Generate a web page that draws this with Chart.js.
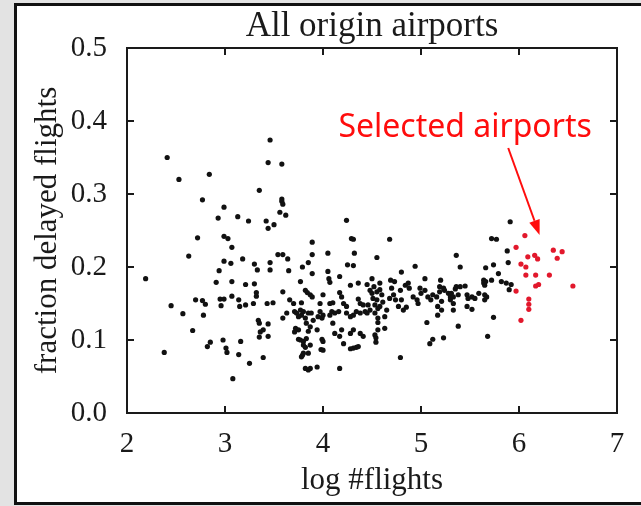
<!DOCTYPE html>
<html>
<head>
<meta charset="utf-8">
<script src="https://cdn.jsdelivr.net/npm/chart.js@4.4.1/dist/chart.umd.min.js"></script>
<style>
  html, body { margin: 0; padding: 0; background: #e3e3e3; overflow: hidden; }
  #frame { position: absolute; left: 14px; top: 3px; width: 640px; height: 502px; box-sizing: border-box;
           border: 3px solid #111; border-right: none; background: #fff; }
  #wrap { position: absolute; left: 0; top: 0; width: 641px; height: 506px; }
</style>
</head>
<body>
<div id="frame"></div>
<div id="wrap"><canvas id="chart" width="641" height="506"></canvas></div>
<script>
// ── data: [log #flights, fraction delayed] ──
const sparseAirports = [
  [2.19,0.184],[2.38,0.083],[2.41,0.350],[2.45,0.147],[2.53,0.320],[2.57,0.136],[2.63,0.215],[2.67,0.113],
  [2.70,0.155],[2.72,0.240],[2.77,0.154],[2.77,0.292],[2.78,0.134],[2.80,0.149],[2.82,0.091],[2.84,0.327],
  [2.85,0.097],[2.91,0.179],[2.93,0.267],[2.94,0.195],[2.95,0.156],[2.96,0.147],[2.98,0.100],[2.99,0.282],
  [2.99,0.242],[2.99,0.208],[2.99,0.156],[3.01,0.089],[3.02,0.083],[3.03,0.239],[3.06,0.205],[3.07,0.227],
  [3.07,0.180],[3.07,0.160],[3.08,0.047],[3.13,0.269],[3.14,0.155],[3.14,0.080],[3.15,0.146],[3.16,0.098],
  [3.18,0.211],[3.21,0.176],[3.21,0.148],[3.24,0.263],[3.25,0.068],[3.29,0.150],[3.30,0.204],[3.30,0.177]
];
const midAirports = [
  [3.32,0.165],[3.32,0.160],[3.33,0.196],[3.34,0.127],[3.35,0.123],[3.35,0.305],[3.35,0.104],[3.36,0.111],
  [3.39,0.114],[3.39,0.076],[3.42,0.263],[3.43,0.150],[3.44,0.343],[3.44,0.253],[3.44,0.122],[3.44,0.105],
  [3.46,0.374],[3.46,0.206],[3.46,0.196],[3.49,0.151],[3.50,0.258],[3.54,0.217],[3.56,0.275],[3.58,0.341],
  [3.58,0.293],[3.58,0.290],[3.59,0.286],[3.59,0.217],[3.59,0.166],[3.59,0.130],[3.62,0.271],[3.63,0.137],
  [3.64,0.211],[3.65,0.195],[3.66,0.155],[3.70,0.150],[3.71,0.139],[3.72,0.116],[3.71,0.111],[3.73,0.137],
  [3.75,0.132],[3.75,0.114],[3.75,0.101],[3.77,0.180],[3.77,0.141],[3.77,0.100],[3.78,0.151],[3.78,0.134],
  [3.78,0.077],[3.79,0.200],[3.79,0.079],[3.80,0.139],[3.80,0.098],[3.80,0.093],[3.80,0.082],[3.82,0.168],
  [3.82,0.130],[3.82,0.090],[3.82,0.061],[3.83,0.123],[3.83,0.102],[3.84,0.165],[3.85,0.206],[3.85,0.137],
  [3.85,0.112],[3.85,0.082],[3.85,0.059],[3.87,0.162],[3.87,0.118],[3.87,0.093],[3.87,0.061],[3.88,0.137],
  [3.89,0.234],[3.89,0.217],[3.89,0.191],[3.89,0.159],[3.90,0.127],[3.94,0.114],[3.94,0.063],[3.95,0.132],
  [3.97,0.150],[3.97,0.139],[3.98,0.087],[3.99,0.130],[3.99,0.101],[4.00,0.162],[4.00,0.134],[4.00,0.098],
  [4.00,0.086],[4.05,0.219],[4.05,0.194],[4.06,0.184],[4.07,0.179],[4.07,0.150],[4.07,0.134],[4.09,0.139],
  [4.10,0.151],[4.10,0.123],[4.12,0.137],[4.12,0.109],[4.16,0.139],[4.17,0.187],[4.17,0.165],[4.17,0.105],
  [4.17,0.061],[4.19,0.159],[4.19,0.114],[4.21,0.150],[4.21,0.095],[4.24,0.264],[4.24,0.146],[4.24,0.137],
  [4.25,0.203],[4.28,0.175],[4.28,0.132],[4.28,0.109],[4.28,0.088],[4.29,0.239],[4.31,0.238],[4.31,0.202],
  [4.31,0.134],[4.31,0.114],[4.31,0.089],[4.32,0.219],[4.34,0.139],[4.34,0.090],[4.36,0.178],[4.36,0.156],
  [4.36,0.091],[4.38,0.150],[4.38,0.137],[4.38,0.109],[4.41,0.148],[4.41,0.105],[4.43,0.139],[4.45,0.176],
  [4.45,0.137],[4.46,0.148],[4.48,0.168],[4.48,0.141]
];
const busyAirports = [
  [4.50,0.184],[4.50,0.164],[4.51,0.157],[4.52,0.173],[4.53,0.148],[4.53,0.137],[4.53,0.107],[4.54,0.103],
  [4.54,0.097],[4.55,0.213],[4.55,0.166],[4.55,0.155],[4.56,0.143],[4.56,0.130],[4.56,0.124],[4.56,0.114],
  [4.58,0.178],[4.58,0.169],[4.58,0.146],[4.60,0.162],[4.61,0.152],[4.63,0.132],[4.63,0.116],[4.65,0.141],
  [4.68,0.238],[4.68,0.157],[4.69,0.182],[4.70,0.171],[4.72,0.162],[4.73,0.180],[4.74,0.155],[4.77,0.146],
  [4.79,0.168],[4.79,0.076],[4.80,0.193],[4.80,0.155],[4.82,0.141],[4.84,0.175],[4.85,0.145],[4.87,0.178],
  [4.88,0.171],[4.92,0.159],[4.94,0.201],[4.96,0.155],[4.97,0.150],[4.99,0.171],[5.00,0.164],[5.04,0.184],
  [5.04,0.168],[5.06,0.124],[5.07,0.159],[5.09,0.095],[5.10,0.155],[5.12,0.162],[5.12,0.101],[5.16,0.159],
  [5.17,0.146],[5.17,0.134],[5.19,0.166],[5.19,0.173],[5.20,0.182],[5.21,0.153],[5.21,0.141],[5.23,0.171],
  [5.23,0.103],[5.24,0.168],[5.28,0.164],[5.30,0.159],[5.30,0.155],[5.31,0.164],[5.33,0.150],[5.33,0.159],
  [5.33,0.141],[5.35,0.170],[5.36,0.216],[5.36,0.173],[5.38,0.162],[5.38,0.119],[5.40,0.200],[5.40,0.173],
  [5.45,0.174],[5.47,0.162],[5.47,0.146],[5.48,0.157],[5.52,0.159],[5.52,0.142],[5.55,0.157],[5.59,0.164],
  [5.64,0.182],[5.64,0.178],[5.65,0.175],[5.65,0.162],[5.65,0.155],[5.66,0.199],[5.66,0.180],[5.67,0.159],
  [5.68,0.105],[5.72,0.239],[5.72,0.182],[5.74,0.203],[5.74,0.131],[5.77,0.238],[5.79,0.191],[5.82,0.180],
  [5.87,0.178],[5.88,0.222],[5.89,0.206],[5.90,0.169],[5.91,0.262],[5.92,0.176]
];
const selectedAirports = [
  [5.97,0.227],[5.97,0.167],[6.02,0.204],[6.02,0.127],[6.06,0.243],[6.07,0.200],[6.07,0.189],[6.09,0.214],
  [6.10,0.156],[6.10,0.149],[6.10,0.142],[6.16,0.216],[6.17,0.189],[6.17,0.174],[6.19,0.211],[6.20,0.176],
  [6.31,0.189],[6.35,0.223],[6.39,0.212],[6.44,0.221],[6.55,0.174]
];
const xTicks = [2, 3, 4, 5, 6, 7];
const yTicks = [0.0, 0.1, 0.2, 0.3, 0.4, 0.5];

// label + arrow, in data units
const CALLOUT = { text: 'Selected airports', at: [5.45, 0.391], from: [5.89, 0.363], to: [6.21, 0.244] };

const SERIF = "'Liberation Serif', 'Times New Roman', serif";
const INK = '#1a1a1a';
const RED = '#ff0d0d';

const toPts = arr => arr.map(([x, y]) => ({ x, y }));

// box round the plot with ticks pointing inward on every side
const boxTicks = {
  id: 'boxTicks',
  afterDraw(chart) {
    const { ctx, chartArea: a, scales: { x, y } } = chart;
    const len = 7;
    ctx.save();
    ctx.strokeStyle = INK;
    ctx.lineWidth = 2;
    ctx.strokeRect(a.left, a.top, a.right - a.left, a.bottom - a.top);
    ctx.beginPath();
    xTicks.forEach(v => {
      const px = x.getPixelForValue(v);
      ctx.moveTo(px, a.bottom); ctx.lineTo(px, a.bottom - len);
      ctx.moveTo(px, a.top); ctx.lineTo(px, a.top + len);
    });
    yTicks.forEach(v => {
      const py = y.getPixelForValue(v);
      ctx.moveTo(a.left, py); ctx.lineTo(a.left + len, py);
      ctx.moveTo(a.right, py); ctx.lineTo(a.right - len, py);
    });
    ctx.stroke();
    ctx.restore();
  }
};

const callout = {
  id: 'callout',
  afterDraw(chart) {
    const { ctx, scales: { x, y } } = chart;
    const tx = x.getPixelForValue(CALLOUT.at[0]), ty = y.getPixelForValue(CALLOUT.at[1]);
    const x0 = x.getPixelForValue(CALLOUT.from[0]), y0 = y.getPixelForValue(CALLOUT.from[1]);
    const x1 = x.getPixelForValue(CALLOUT.to[0]), y1 = y.getPixelForValue(CALLOUT.to[1]);
    ctx.save();
    ctx.fillStyle = RED;
    ctx.strokeStyle = RED;
    ctx.font = "32px 'Noto Sans', 'DejaVu Sans', sans-serif";
    ctx.textAlign = 'center';
    ctx.textBaseline = 'middle';
    ctx.fillText(CALLOUT.text, tx, ty);
    // arrow shaft + head
    const ang = Math.atan2(y1 - y0, x1 - x0);
    const head = 15, half = 5.5;
    const bx = x1 - head * Math.cos(ang), by = y1 - head * Math.sin(ang);
    ctx.lineWidth = 2;
    ctx.beginPath(); ctx.moveTo(x0, y0); ctx.lineTo(bx, by); ctx.stroke();
    ctx.beginPath();
    ctx.moveTo(x1, y1);
    ctx.lineTo(bx + half * Math.sin(ang), by - half * Math.cos(ang));
    ctx.lineTo(bx - half * Math.sin(ang), by + half * Math.cos(ang));
    ctx.closePath(); ctx.fill();
    ctx.restore();
  }
};

new Chart(document.getElementById('chart'), {
  type: 'scatter',
  data: {
    datasets: [
      { data: toPts([...sparseAirports, ...midAirports, ...busyAirports]), backgroundColor: '#111', pointRadius: 2.6, borderWidth: 0 },
      { data: toPts(selectedAirports), backgroundColor: '#e2182c', pointRadius: 2.6, borderWidth: 0 }
    ]
  },
  options: {
    responsive: false, animation: false, events: [],
    layout: { padding: { left: 20, right: 24, top: 2, bottom: 6 } },
    plugins: {
      legend: { display: false }, tooltip: { enabled: false },
      title: {
        display: true, text: 'All origin airports', fullSize: false, color: INK,
        font: { family: SERIF, size: 35, weight: 'normal' }, padding: { top: 4, bottom: 0 }
      }
    },
    scales: {
      x: {
        type: 'linear', min: 2, max: 7,
        afterBuildTicks: s => { s.ticks = xTicks.map(v => ({ value: v })); },
        ticks: { color: INK, font: { family: SERIF, size: 29 }, padding: 14, callback: v => String(v) },
        grid: { display: false, drawTicks: false }, border: { display: false },
        title: { display: true, text: 'log #flights', color: INK, font: { family: SERIF, size: 31 }, padding: { top: 0, bottom: 1 } },
        afterFit: s => { s.height = 87; }
      },
      y: {
        min: 0, max: 0.5,
        afterBuildTicks: s => { s.ticks = yTicks.map(v => ({ value: v })); },
        ticks: { color: INK, font: { family: SERIF, size: 29 }, padding: 20, callback: v => v.toFixed(1) },
        grid: { display: false, drawTicks: false }, border: { display: false },
        title: { display: true, text: 'fraction delayed flights', color: INK, font: { family: SERIF, size: 31 }, padding: { top: 9, bottom: 0 } },
        afterFit: s => { s.width = 107; }
      }
    }
  },
  plugins: [boxTicks, callout]
});
</script>
</body>
</html>
